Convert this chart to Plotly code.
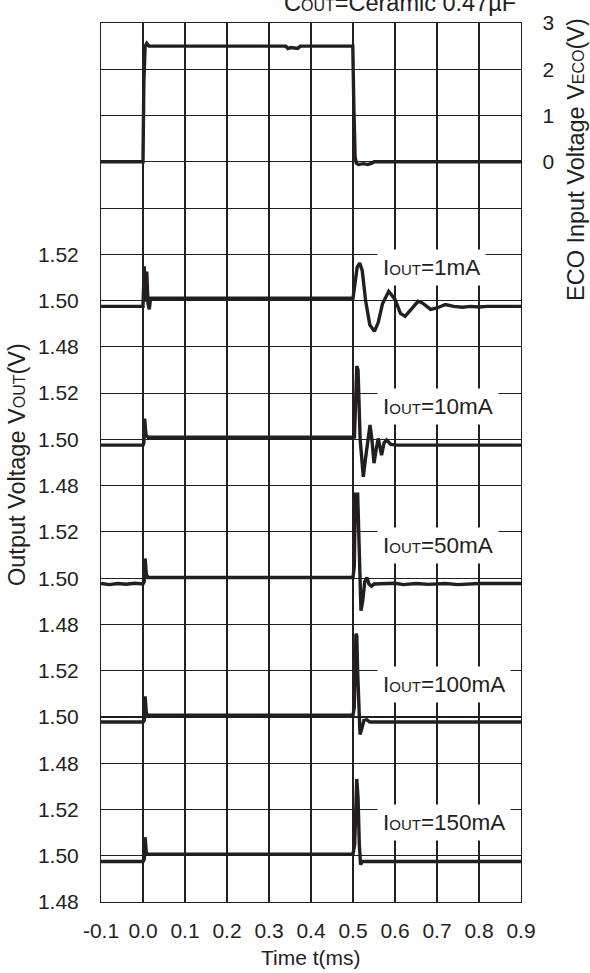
import plotly.graph_objects as go

# ---------------- data ----------------
time_ticks = [-0.1, 0.0, 0.1, 0.2, 0.3, 0.4, 0.5, 0.6, 0.7, 0.8, 0.9]
time_tick_labels = ["-0.1", "0.0", "0.1", "0.2", "0.3", "0.4", "0.5", "0.6", "0.7", "0.8", "0.9"]
veco_ticks = [0, 1, 2, 3]
vout_ticks = [1.48, 1.50, 1.52]
vout_tick_labels = ["1.48", "1.50", "1.52"]

veco_t = [-0.1, 0.0, 0.002, 0.005, 0.009, 0.014, 0.02, 0.34, 0.345, 0.352, 0.36, 0.368, 0.375,
          0.4995, 0.502, 0.505, 0.508, 0.513, 0.525, 0.535, 0.545, 0.55, 0.9]
veco_v = [0, 0, 1.7, 2.5, 2.56, 2.5, 2.5, 2.5, 2.45, 2.47, 2.46, 2.45, 2.5,
          2.5, 1.2, 0.1, -0.03, -0.06, -0.04, -0.06, -0.03, 0, 0]

i1_t = [-0.1, 0.0, 0.003, 0.006, 0.009, 0.012, 0.015, 0.018, 0.5, 0.505, 0.510, 0.516, 0.522, 0.53,
        0.54, 0.551, 0.56, 0.57, 0.585, 0.60, 0.613, 0.624, 0.64, 0.655, 0.665, 0.685, 0.70, 0.72,
        0.74, 0.76, 0.78, 0.80, 0.82, 0.9]
i1_v = [1.4975, 1.4975, 1.5148, 1.4995, 1.5125, 1.4985, 1.4962, 1.501, 1.501, 1.5075, 1.5145, 1.5162,
        1.5130, 1.5000, 1.4895, 1.4867, 1.4905, 1.4985, 1.5040, 1.5005, 1.4945, 1.4932, 1.4965,
        1.4997, 1.4990, 1.4962, 1.4968, 1.4983, 1.4975, 1.4971, 1.4975, 1.4972, 1.4975, 1.4975]

i10_t = [-0.1, 0.0, 0.002, 0.004, 0.007, 0.012, 0.5, 0.5035, 0.509, 0.512, 0.517, 0.5246, 0.53,
         0.5405, 0.545, 0.55, 0.556, 0.56, 0.564, 0.568, 0.574, 0.58, 0.59, 0.604, 0.9]
i10_v = [1.4975, 1.4975, 1.4985, 1.509, 1.502, 1.5009, 1.5009, 1.501, 1.5317, 1.530, 1.500, 1.4838,
         1.492, 1.5062, 1.500, 1.4897, 1.4965, 1.5004, 1.497, 1.4932, 1.4985, 1.4997, 1.4978,
         1.4975, 1.4975]

i50_t = [-0.1, -0.08, -0.06, -0.04, -0.02, 0.0, 0.003, 0.005, 0.008, 0.012, 0.5, 0.503, 0.506,
         0.509, 0.511, 0.514, 0.517, 0.519, 0.523, 0.528, 0.533, 0.538, 0.544, 0.55, 0.6, 0.62,
         0.65, 0.68, 0.72, 0.75, 0.8, 0.9]
i50_v = [1.4977, 1.4972, 1.4977, 1.4974, 1.4978, 1.4975, 1.4985, 1.5085, 1.5015, 1.5003, 1.5003,
         1.505, 1.537, 1.528, 1.537, 1.515, 1.492, 1.4859, 1.490, 1.4985, 1.5003, 1.4975, 1.4965,
         1.4975, 1.4978, 1.4972, 1.4977, 1.4973, 1.4977, 1.4972, 1.4977, 1.4977]

i100_t = [-0.1, 0.0, 0.003, 0.005, 0.008, 0.012, 0.5, 0.503, 0.507, 0.509, 0.511, 0.514, 0.5167,
          0.521, 0.526, 0.533, 0.54, 0.9]
i100_v = [1.4978, 1.4978, 1.4985, 1.5089, 1.5015, 1.5008, 1.5008, 1.504, 1.536, 1.535, 1.520, 1.500,
          1.4924, 1.495, 1.4985, 1.4988, 1.4978, 1.4978]

i150_t = [-0.1, 0.0, 0.003, 0.005, 0.008, 0.012, 0.5, 0.504, 0.509, 0.512, 0.515, 0.518, 0.522, 0.9]
i150_v = [1.4975, 1.4975, 1.4985, 1.508, 1.501, 1.5007, 1.5007, 1.505, 1.5332, 1.525, 1.505, 1.4961,
          1.4975, 1.4975]

panel_labels = ["1mA", "10mA", "50mA", "100mA", "150mA"]
panel_series = [(i1_t, i1_v), (i10_t, i10_v), (i50_t, i50_v), (i100_t, i100_v), (i150_t, i150_v)]

# ---------------- styling ----------------
FONT = "Liberation Sans, Arial, sans-serif"
INK = "#231f20"
FS = 21          # tick labels
FS_LAB = 22.5    # panel labels
FS_TITLE = 23.5  # axis titles
SUB = 15
LINE_W = 3.4

fig = go.Figure()

fig.add_trace(go.Scatter(x=veco_t, y=veco_v, mode="lines",
                         line=dict(color=INK, width=LINE_W), yaxis="y", showlegend=False))

for k, (t, v) in enumerate(panel_series):
    fig.add_trace(go.Scatter(x=t, y=v, mode="lines",
                             line=dict(color=INK, width=LINE_W),
                             yaxis=f"y{k + 2}", showlegend=False))

layout = dict(
    width=590, height=973,
    margin=dict(l=101, r=69, t=23, b=71),
    paper_bgcolor="white", plot_bgcolor="white",
    font=dict(family=FONT, size=FS, color=INK),
    xaxis=dict(range=[-0.1, 0.9], tickvals=time_ticks, ticktext=time_tick_labels,
               showgrid=True, gridcolor=INK, gridwidth=1.1, zeroline=False,
               showline=True, linecolor=INK, linewidth=1.3, mirror=True,
               ticks="outside", ticklen=0, ticklabelstandoff=9,
               tickfont=dict(size=FS, family=FONT, color=INK)),
    yaxis=dict(range=[-16, 3], side="right",
               tickvals=list(range(-16, 4)),
               ticktext=["" for _ in range(-16, 0)] + [str(v) for v in veco_ticks],
               showgrid=True, gridcolor=INK, gridwidth=1.1, zeroline=False,
               showline=True, linecolor=INK, linewidth=1.3, mirror=True,
               ticks="outside", ticklen=0, ticklabelstandoff=16,
               tickfont=dict(size=FS, family=FONT, color=INK)),
)

for k in range(5):
    r0 = 12 - 3 * k
    lo = 1.48 - r0 * 0.02
    hi = 1.48 + (19 - r0) * 0.02
    layout[f"yaxis{k + 2}"] = dict(
        range=[lo, hi], overlaying="y", side="left",
        tickvals=vout_ticks, ticktext=vout_tick_labels,
        showgrid=False, zeroline=False, showline=False,
        ticks="outside", ticklen=0, ticklabelstandoff=17,
        tickfont=dict(size=FS, family=FONT, color=INK))

fig.update_layout(**layout)

annotations = []
for k, lab in enumerate(panel_labels):
    annotations.append(dict(
        x=0.557, y=1.5142, xref="x", yref=f"y{k + 2}",
        xanchor="left", yanchor="middle",
        text=f"I<span style='font-size:{SUB}px'>OUT</span>={lab}",
        showarrow=False, bgcolor="white", borderpad=5,
        font=dict(size=FS_LAB, family=FONT, color=INK)))

annotations.append(dict(
    x=(518 - 101) / 420, y=1 + (23 - 3) / 879, xref="paper", yref="paper",
    xanchor="right", yanchor="middle", showarrow=False,
    text="C<span style='font-size:16px'>OUT</span>=Ceramic 0.47µF",
    font=dict(size=23.5, family=FONT, color=INK)))

annotations.append(dict(
    x=(576 - 101) / 420, y=(902 - 160) / 879, xref="paper", yref="paper",
    xanchor="center", yanchor="middle", showarrow=False, textangle=-90,
    text=f"ECO Input Voltage V<span style='font-size:16px'>ECO</span>(V)",
    font=dict(size=FS_TITLE, family=FONT, color=INK)))

annotations.append(dict(
    x=(17 - 101) / 420, y=(902 - 465) / 879, xref="paper", yref="paper",
    xanchor="center", yanchor="middle", showarrow=False, textangle=-90,
    text=f"Output Voltage V<span style='font-size:16px'>OUT</span>(V)",
    font=dict(size=FS_TITLE, family=FONT, color=INK)))

annotations.append(dict(
    x=0.5, y=(902 - 958) / 879, xref="paper", yref="paper",
    xanchor="center", yanchor="middle", showarrow=False,
    text="Time t(ms)",
    font=dict(size=FS, family=FONT, color=INK)))

fig.update_layout(annotations=annotations)

fig.write_html(
    "out.html",
    config={"displayModeBar": False, "staticPlot": True},
    post_script="document.body.style.margin='0';document.body.style.overflow='hidden';",
)
